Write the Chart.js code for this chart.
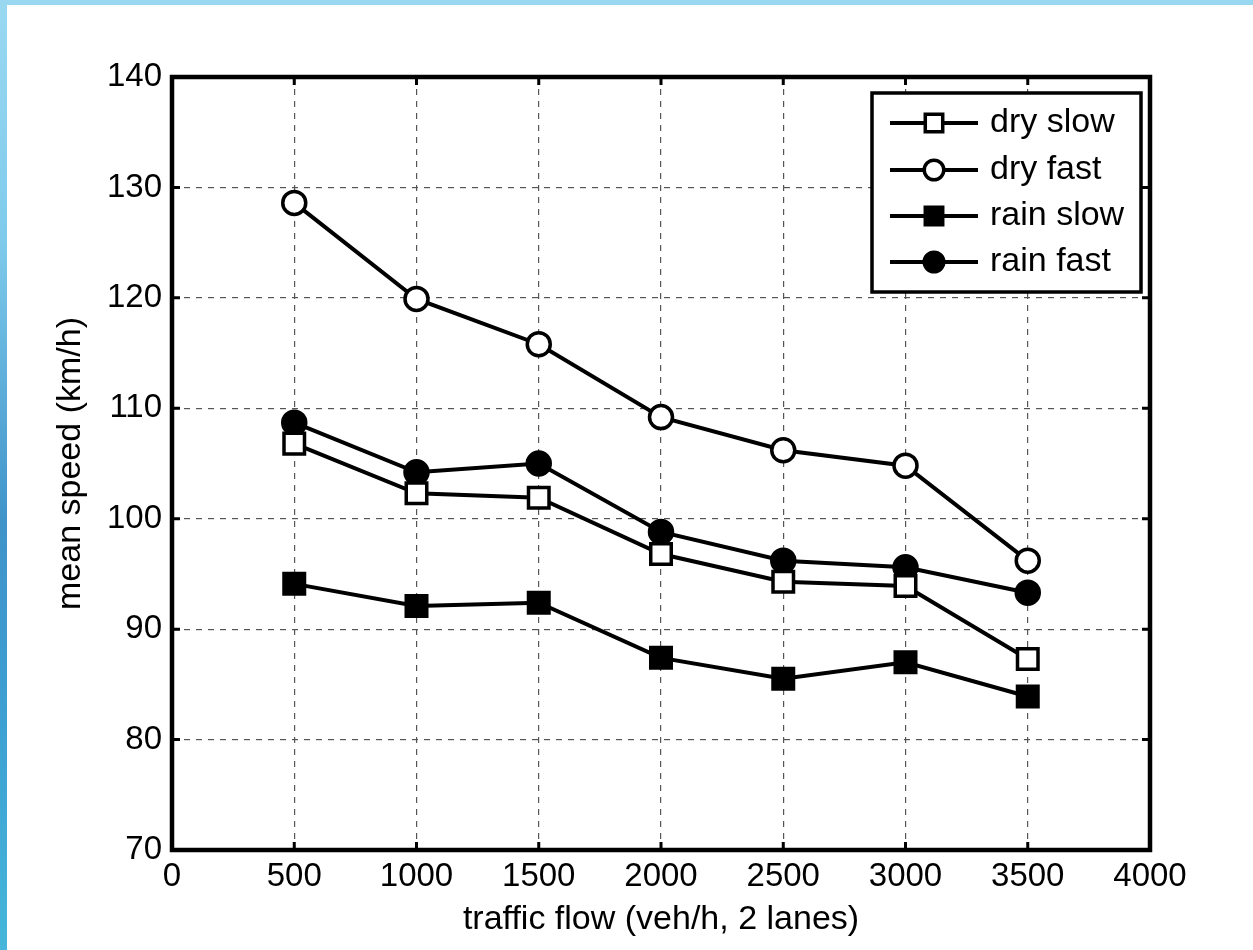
<!DOCTYPE html>
<html>
<head>
<meta charset="utf-8">
<script src="https://cdn.jsdelivr.net/npm/chart.js@4/dist/chart.umd.min.js"></script>
<style>
    html, body { margin: 0; padding: 0; }
    body {
        width: 1253px; height: 950px; overflow: hidden; position: relative;
        background: linear-gradient(180deg, #9ad8f1 0%, #7fcbec 25%, #3f93c9 55%, #3d9fd2 75%, #45b6da 100%);
    }
    #panel { position: absolute; left: 7px; top: 5px; right: 0; bottom: 0; background: #fff; }
    #wrap { position: absolute; left: 0; top: 0; width: 1253px; height: 950px; }
</style>
</head>
<body>
<div id="panel"></div>
<div id="wrap"><canvas id="speedChart" width="1253" height="950"></canvas></div>
<script>
// data
var flows = [500, 1000, 1500, 2000, 2500, 3000, 3500];
var drySlow = [106.8, 102.3, 101.9, 96.8, 94.3, 93.9, 87.3];
var dryFast = [128.6, 119.9, 115.8, 109.2, 106.2, 104.8, 96.2];
var rainSlow = [94.1, 92.1, 92.4, 87.4, 85.5, 87.0, 83.9];
var rainFast = [108.7, 104.2, 105.0, 98.8, 96.2, 95.6, 93.3];
var xTicks = [0, 500, 1000, 1500, 2000, 2500, 3000, 3500, 4000];
var yTicks = [70, 80, 90, 100, 110, 120, 130, 140];

var FONT = '"Liberation Sans", Arial, sans-serif';

function pts(vals) {
    return flows.map(function (f, i) { return { x: f, y: vals[i] }; });
}

function series(label, vals, style, filled, r) {
    return {
        label: label,
        data: pts(vals),
        borderColor: '#000',
        borderWidth: 4,
        backgroundColor: filled ? '#000' : '#fff',
        pointBackgroundColor: filled ? '#000' : '#fff',
        pointBorderColor: '#000',
        pointBorderWidth: 3.5,
        pointStyle: style,
        pointRadius: r,
        pointHoverRadius: r,
        pointHoverBorderWidth: 3.5,
        tension: 0,
        fill: false
    };
}

// frame + inward ticks (matlab style)
var framePlugin = {
    id: 'frame',
    afterDatasetsDraw: function (chart) {
        var ctx = chart.ctx, a = chart.chartArea;
        var xs = chart.scales.x, ys = chart.scales.y;
        ctx.save();
        ctx.strokeStyle = '#000';
        ctx.lineWidth = 3;
        var tl = 8;
        xTicks.forEach(function (v) {
            var px = xs.getPixelForValue(v);
            ctx.beginPath();
            ctx.moveTo(px, a.bottom); ctx.lineTo(px, a.bottom - tl);
            ctx.moveTo(px, a.top); ctx.lineTo(px, a.top + tl);
            ctx.stroke();
        });
        yTicks.forEach(function (v) {
            var py = ys.getPixelForValue(v);
            ctx.beginPath();
            ctx.moveTo(a.left, py); ctx.lineTo(a.left + tl, py);
            ctx.moveTo(a.right, py); ctx.lineTo(a.right - tl, py);
            ctx.stroke();
        });
        ctx.lineWidth = 4.5;
        ctx.strokeRect(a.left, a.top, a.right - a.left, a.bottom - a.top);
        ctx.restore();
    }
};

// legend box like the original (line through marker)
var legendPlugin = {
    id: 'boxLegend',
    afterDraw: function (chart) {
        var ctx = chart.ctx;
        var bx = 872, by = 93, bw = 269, bh = 199;
        ctx.save();
        ctx.fillStyle = '#fff';
        ctx.fillRect(bx, by, bw, bh);
        ctx.strokeStyle = '#000';
        ctx.lineWidth = 3.5;
        ctx.strokeRect(bx, by, bw, bh);
        var rows = [123, 170, 216, 262];
        chart.data.datasets.forEach(function (ds, i) {
            var y = rows[i];
            ctx.strokeStyle = '#000';
            ctx.lineWidth = 4;
            ctx.beginPath();
            ctx.moveTo(890, y); ctx.lineTo(978, y);
            ctx.stroke();
            ctx.fillStyle = ds.pointBackgroundColor;
            ctx.lineWidth = 3.5;
            ctx.beginPath();
            if (ds.pointStyle === 'rect') {
                var s = ds.pointRadius * Math.SQRT1_2 * 0.85;
                ctx.rect(934 - s, y - s, 2 * s, 2 * s);
            } else {
                ctx.arc(934, y, ds.pointRadius * 0.85, 0, Math.PI * 2);
            }
            ctx.fill();
            ctx.stroke();
            ctx.fillStyle = '#000';
            ctx.font = '34px ' + FONT;
            ctx.textBaseline = 'middle';
            ctx.textAlign = 'left';
            ctx.fillText(ds.label, 990, y);
        });
        ctx.restore();
    }
};

var speed = document.getElementById("speedChart");
var speedChart = new Chart(speed, {
    type: 'line',
    data: {
        datasets: [
            series('dry slow', drySlow, 'rect', false, 14.5),
            series('dry fast', dryFast, 'circle', false, 11.5),
            series('rain slow', rainSlow, 'rect', true, 14.5),
            series('rain fast', rainFast, 'circle', true, 11.5)
        ]
    },
    options: {
        responsive: false,
        animation: false,
        layout: { padding: { left: 0, top: 77, right: 103, bottom: 0 } },
        plugins: {
            legend: { display: false },
            tooltip: { enabled: false }
        },
        scales: {
            x: {
                type: 'linear',
                min: 0,
                max: 4000,
                afterBuildTicks: function (s) { s.ticks = xTicks.map(function (v) { return { value: v }; }); },
                afterFit: function (s) { s.height = 100; },
                ticks: {
                    color: '#000', font: { family: FONT, size: 33 }, padding: 7, maxRotation: 0,
                    callback: function (v) { return String(v); }
                },
                grid: { color: '#555', lineWidth: 1.2, drawTicks: false },
                border: { display: false, dash: [6, 6] },
                title: {
                    display: true,
                    text: 'traffic flow (veh/h, 2 lanes)',
                    color: '#000',
                    font: { family: FONT, size: 34 },
                    padding: { top: 0, bottom: 10 }
                }
            },
            y: {
                min: 70,
                max: 140,
                afterBuildTicks: function (s) { s.ticks = yTicks.map(function (v) { return { value: v }; }); },
                afterFit: function (s) { s.width = 172; },
                ticks: { color: '#000', font: { family: FONT, size: 33 }, padding: 10 },
                grid: { color: '#555', lineWidth: 1.2, drawTicks: false },
                border: { display: false, dash: [6, 6] },
                title: {
                    display: true,
                    text: 'mean speed (km/h)',
                    color: '#000',
                    font: { family: FONT, size: 34 },
                    padding: { top: 50, bottom: 0 }
                }
            }
        }
    },
    plugins: [framePlugin, legendPlugin]
});
</script>
</body>
</html>
